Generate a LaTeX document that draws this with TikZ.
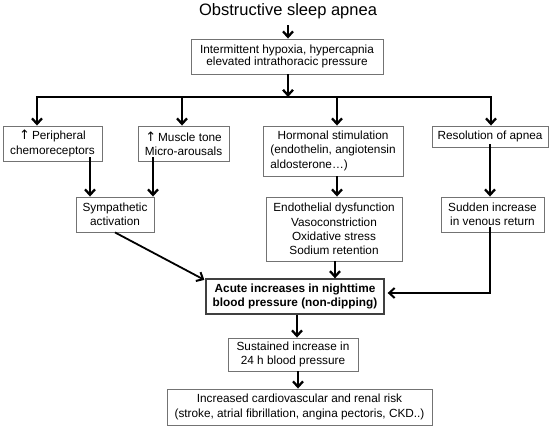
\documentclass[tikz,border=0pt]{standalone}
\usepackage{fontspec}
\setmainfont{Liberation Sans}
\newfontfamily\arrowfont{DejaVu Sans}
\newcommand{\uparr}{{\arrowfont\fontsize{13}{12}\selectfont ↑}}
\usetikzlibrary{arrows.meta}
\begin{document}
\begin{tikzpicture}[x=1pt,y=-1pt,
  box/.style={draw=black!55, line width=0.9pt, inner sep=0pt, align=center,
    font=\fontsize{11.8}{14.2}\selectfont},
  arr/.style={line width=2.3pt, -{Straight Barb[length=5.5pt,width=10pt,line width=2.3pt]}},
  tarr/.style={line width=1.8pt, -{Straight Barb[length=5.5pt,width=10pt,line width=2pt]}},
  bus/.style={line width=2.3pt}]
\useasboundingbox (0,0) rectangle (553,427);
\node (title) at (288,11) {\fontsize{16.5}{18}\selectfont Obstructive\ sleep\ apnea};
\node[box, minimum width=192pt, minimum height=35pt, font=\fontsize{11.8}{12.3}\selectfont] (b1) at (287,56.5)
  {Intermittent hypoxia, hypercapnia\\elevated intrathoracic pressure};
\node[box, minimum width=99pt, minimum height=35pt] (per) at (52.5,143.5) {\uparr\,Peripheral\\chemoreceptors};
\node[box, minimum width=91pt, minimum height=35pt] (mus) at (183.5,143.5) {\uparr\,Muscle tone\\Micro-arousals};
\node[box, minimum width=140pt, minimum height=50pt] (hor) at (333,151)
  {\begin{tabular}{@{}l@{}}\multicolumn{1}{@{}c@{}}{Hormonal stimulation}\\(endothelin, angiotensin\\aldosterone…)\end{tabular}};
\node[box, minimum width=116pt, minimum height=21pt] (res) at (490,136.5) {Resolution of apnea};
\node[box, minimum width=78pt, minimum height=35pt] (sym) at (115,214.5) {Sympathetic\\activation};
\node[box, minimum width=136pt, minimum height=64pt] (endo) at (334,229)
  {Endothelial dysfunction\\Vasoconstriction\\Oxidative stress\\Sodium retention};
\node[box, minimum width=103pt, minimum height=35pt] (sud) at (492.5,214.5) {Sudden increase\\in venous return};
\node[box, draw=black!75, line width=1.3pt, minimum width=178pt, minimum height=35pt,
  font=\fontsize{11.8}{14.2}\selectfont\bfseries] (acu) at (295,296.5)
  {Acute increases in nighttime\\blood pressure (non-dipping)};
\node[box, minimum width=130pt, minimum height=33pt] (sus) at (293,354.5) {Sustained increase in\\24 h blood pressure};
\node[box, minimum width=265pt, minimum height=36pt] (fin) at (299.5,407)
  {Increased cardiovascular and renal risk\\(stroke, atrial fibrillation, angina pectoris, CKD..)};
% coordinates
\coordinate (bc) at (288,97);
\coordinate (c1) at (37,97);
\coordinate (c2) at (182,97);
\coordinate (c3) at (337,97);
\coordinate (c4) at (491,97);
\coordinate (k) at (490,293);
% connectors
\draw[arr] ([yshift=-3pt]title.south -| bc) -- (b1.north -| bc);
\draw[arr] (b1.south -| bc) -- (bc);
\draw[bus] ([xshift=-1.15pt]c1) -- ([xshift=1.15pt]c4);
\draw[arr] (c1) -- (c1 |- per.north);
\draw[arr] (c2) -- (c2 |- mus.north);
\draw[arr] (c3) -- (c3 |- hor.north);
\draw[arr] (c4) -- (c4 |- res.north);
\draw[arr] ([yshift=4pt]per.south -| 90,0) -- (sym.north -| 90,0);
\draw[arr] ([yshift=4pt]mus.south -| 153,0) -- (sym.north -| 153,0);
\draw[arr] (hor.south -| 337,0) -- (endo.north -| 337,0);
\draw[arr] ([yshift=3pt]res.south -| 490,0) -- (sud.north -| 490,0);
\draw[tarr] (sym.south) -- ([xshift=-1pt,yshift=-1.5pt]acu.north west);
\draw[arr] (endo.south -| 335,0) -- (acu.north -| 335,0);
\draw[tarr, line width=2pt] ([yshift=5pt]sud.south -| k) -- (k) -- ([xshift=3pt]k -| acu.east);
\draw[arr] (acu.south -| 297,0) -- (sus.north -| 297,0);
\draw[arr] (sus.south -| 298,0) -- (fin.north -| 298,0);
\end{tikzpicture}
\end{document}
